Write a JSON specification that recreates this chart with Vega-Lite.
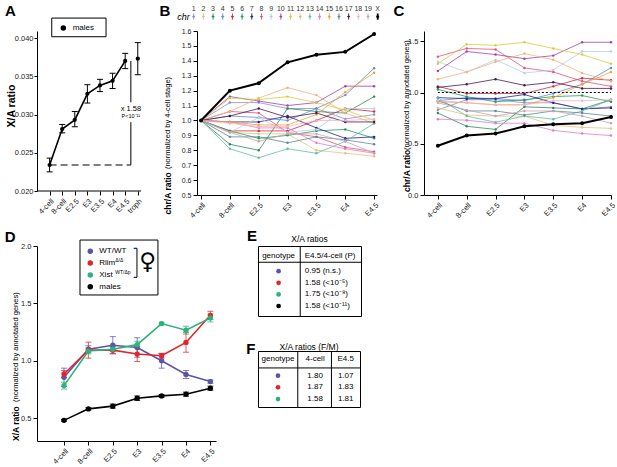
{
  "$schema": "https://vega.github.io/schema/vega-lite/v6.json",
  "padding": {"left": 4, "top": 4, "right": 0, "bottom": 0},
  "config": {
    "font": "Liberation Sans",
    "view": {"stroke": null},
    "axis": {"labelFontSize": 7.5, "labelColor": "#222", "domainColor": "black", "tickColor": "black", "tickSize": 4, "grid": false, "labelPadding": 2, "labelOverlap": false, "labelFlush": false}
  },
  "datasets": {
    "a": [
      {"i": 0, "v": 0.0234, "lo": 0.0225, "hi": 0.0243},
      {"i": 1, "v": 0.0281, "lo": 0.0276, "hi": 0.0287},
      {"i": 2, "v": 0.0293, "lo": 0.0284, "hi": 0.0304},
      {"i": 3, "v": 0.0327, "lo": 0.0315, "hi": 0.0339},
      {"i": 4, "v": 0.0338, "lo": 0.0330, "hi": 0.0346},
      {"i": 5, "v": 0.0344, "lo": 0.0334, "hi": 0.0354},
      {"i": 6, "v": 0.0370, "lo": 0.0360, "hi": 0.0380},
      {"i": 7, "v": 0.0373, "lo": 0.0352, "hi": 0.0394}
    ],
    "bc": [
      {"chr": "1", "i": 0, "b": 1, "c": 0.83}, {"chr": "1", "i": 1, "b": 1.12, "c": 0.93}, {"chr": "1", "i": 2, "b": 1.12, "c": 0.93}, {"chr": "1", "i": 3, "b": 1.08, "c": 0.90}, {"chr": "1", "i": 4, "b": 1.08, "c": 0.90}, {"chr": "1", "i": 5, "b": 1.01, "c": 0.84}, {"chr": "1", "i": 6, "b": 1.04, "c": 0.86},
      {"chr": "2", "i": 0, "b": 1, "c": 0.85}, {"chr": "2", "i": 1, "b": 0.92, "c": 0.78}, {"chr": "2", "i": 2, "b": 0.91, "c": 0.77}, {"chr": "2", "i": 3, "b": 0.91, "c": 0.77}, {"chr": "2", "i": 4, "b": 0.80, "c": 0.68}, {"chr": "2", "i": 5, "b": 0.78, "c": 0.66}, {"chr": "2", "i": 6, "b": 0.76, "c": 0.65},
      {"chr": "3", "i": 0, "b": 1, "c": 0.80}, {"chr": "3", "i": 1, "b": 0.84, "c": 0.67}, {"chr": "3", "i": 2, "b": 0.80, "c": 0.64}, {"chr": "3", "i": 3, "b": 1.08, "c": 0.86}, {"chr": "3", "i": 4, "b": 1.06, "c": 0.85}, {"chr": "3", "i": 5, "b": 1.05, "c": 0.84}, {"chr": "3", "i": 6, "b": 1.16, "c": 0.93},
      {"chr": "4", "i": 0, "b": 1, "c": 0.92}, {"chr": "4", "i": 1, "b": 1.03, "c": 0.95}, {"chr": "4", "i": 2, "b": 1.02, "c": 0.94}, {"chr": "4", "i": 3, "b": 1.00, "c": 0.92}, {"chr": "4", "i": 4, "b": 1.08, "c": 0.99}, {"chr": "4", "i": 5, "b": 1.17, "c": 1.08}, {"chr": "4", "i": 6, "b": 1.35, "c": 1.24},
      {"chr": "5", "i": 0, "b": 1, "c": 1.06}, {"chr": "5", "i": 1, "b": 0.93, "c": 0.99}, {"chr": "5", "i": 2, "b": 0.93, "c": 0.99}, {"chr": "5", "i": 3, "b": 0.93, "c": 0.99}, {"chr": "5", "i": 4, "b": 1.00, "c": 1.06}, {"chr": "5", "i": 5, "b": 1.08, "c": 1.14}, {"chr": "5", "i": 6, "b": 1.06, "c": 1.12},
      {"chr": "6", "i": 0, "b": 1, "c": 1.03}, {"chr": "6", "i": 1, "b": 0.93, "c": 0.96}, {"chr": "6", "i": 2, "b": 0.88, "c": 0.91}, {"chr": "6", "i": 3, "b": 0.90, "c": 0.93}, {"chr": "6", "i": 4, "b": 0.93, "c": 0.96}, {"chr": "6", "i": 5, "b": 0.94, "c": 0.97}, {"chr": "6", "i": 6, "b": 0.88, "c": 0.91},
      {"chr": "7", "i": 0, "b": 1, "c": 0.95}, {"chr": "7", "i": 1, "b": 0.99, "c": 0.94}, {"chr": "7", "i": 2, "b": 0.99, "c": 0.94}, {"chr": "7", "i": 3, "b": 1.03, "c": 0.98}, {"chr": "7", "i": 4, "b": 0.95, "c": 0.90}, {"chr": "7", "i": 5, "b": 0.88, "c": 0.84}, {"chr": "7", "i": 6, "b": 0.89, "c": 0.85},
      {"chr": "8", "i": 0, "b": 1, "c": 1.35}, {"chr": "8", "i": 1, "b": 1.06, "c": 1.43}, {"chr": "8", "i": 2, "b": 1.05, "c": 1.42}, {"chr": "8", "i": 3, "b": 0.92, "c": 1.24}, {"chr": "8", "i": 4, "b": 0.89, "c": 1.20}, {"chr": "8", "i": 5, "b": 0.82, "c": 1.11}, {"chr": "8", "i": 6, "b": 0.79, "c": 1.06},
      {"chr": "9", "i": 0, "b": 1, "c": 1.30}, {"chr": "9", "i": 1, "b": 0.92, "c": 1.20}, {"chr": "9", "i": 2, "b": 1.02, "c": 1.32}, {"chr": "9", "i": 3, "b": 0.92, "c": 1.19}, {"chr": "9", "i": 4, "b": 0.94, "c": 1.22}, {"chr": "9", "i": 5, "b": 1.08, "c": 1.40}, {"chr": "9", "i": 6, "b": 1.08, "c": 1.40},
      {"chr": "10", "i": 0, "b": 1, "c": 1.21}, {"chr": "10", "i": 1, "b": 1.16, "c": 1.40}, {"chr": "10", "i": 2, "b": 1.13, "c": 1.37}, {"chr": "10", "i": 3, "b": 1.10, "c": 1.33}, {"chr": "10", "i": 4, "b": 1.12, "c": 1.36}, {"chr": "10", "i": 5, "b": 1.23, "c": 1.49}, {"chr": "10", "i": 6, "b": 1.23, "c": 1.49},
      {"chr": "11", "i": 0, "b": 1, "c": 1.28}, {"chr": "11", "i": 1, "b": 1.15, "c": 1.47}, {"chr": "11", "i": 2, "b": 1.14, "c": 1.46}, {"chr": "11", "i": 3, "b": 1.16, "c": 1.49}, {"chr": "11", "i": 4, "b": 1.12, "c": 1.43}, {"chr": "11", "i": 5, "b": 1.07, "c": 1.37}, {"chr": "11", "i": 6, "b": 1.00, "c": 1.28},
      {"chr": "12", "i": 0, "b": 1, "c": 1.13}, {"chr": "12", "i": 1, "b": 1.06, "c": 1.20}, {"chr": "12", "i": 2, "b": 1.15, "c": 1.30}, {"chr": "12", "i": 3, "b": 1.22, "c": 1.38}, {"chr": "12", "i": 4, "b": 1.17, "c": 1.32}, {"chr": "12", "i": 5, "b": 1.05, "c": 1.19}, {"chr": "12", "i": 6, "b": 0.98, "c": 1.11},
      {"chr": "13", "i": 0, "b": 1, "c": 0.95}, {"chr": "13", "i": 1, "b": 0.81, "c": 0.77}, {"chr": "13", "i": 2, "b": 0.75, "c": 0.71}, {"chr": "13", "i": 3, "b": 0.81, "c": 0.77}, {"chr": "13", "i": 4, "b": 0.78, "c": 0.74}, {"chr": "13", "i": 5, "b": 0.86, "c": 0.82}, {"chr": "13", "i": 6, "b": 0.98, "c": 0.93},
      {"chr": "14", "i": 0, "b": 1, "c": 0.74}, {"chr": "14", "i": 1, "b": 0.99, "c": 0.73}, {"chr": "14", "i": 2, "b": 0.95, "c": 0.70}, {"chr": "14", "i": 3, "b": 0.95, "c": 0.70}, {"chr": "14", "i": 4, "b": 0.85, "c": 0.63}, {"chr": "14", "i": 5, "b": 0.81, "c": 0.60}, {"chr": "14", "i": 6, "b": 0.78, "c": 0.58},
      {"chr": "15", "i": 0, "b": 1, "c": 0.91}, {"chr": "15", "i": 1, "b": 0.99, "c": 0.90}, {"chr": "15", "i": 2, "b": 0.97, "c": 0.88}, {"chr": "15", "i": 3, "b": 0.97, "c": 0.88}, {"chr": "15", "i": 4, "b": 1.04, "c": 0.95}, {"chr": "15", "i": 5, "b": 1.19, "c": 1.08}, {"chr": "15", "i": 6, "b": 1.32, "c": 1.20},
      {"chr": "16", "i": 0, "b": 1, "c": 0.92}, {"chr": "16", "i": 1, "b": 0.89, "c": 0.82}, {"chr": "16", "i": 2, "b": 0.89, "c": 0.82}, {"chr": "16", "i": 3, "b": 0.85, "c": 0.78}, {"chr": "16", "i": 4, "b": 0.89, "c": 0.82}, {"chr": "16", "i": 5, "b": 0.87, "c": 0.80}, {"chr": "16", "i": 6, "b": 0.84, "c": 0.77},
      {"chr": "17", "i": 0, "b": 1, "c": 1.05}, {"chr": "17", "i": 1, "b": 1.03, "c": 1.08}, {"chr": "17", "i": 2, "b": 1.08, "c": 1.13}, {"chr": "17", "i": 3, "b": 1.02, "c": 1.07}, {"chr": "17", "i": 4, "b": 1.05, "c": 1.10}, {"chr": "17", "i": 5, "b": 0.99, "c": 1.04}, {"chr": "17", "i": 6, "b": 0.99, "c": 1.04},
      {"chr": "18", "i": 0, "b": 1, "c": 0.92}, {"chr": "18", "i": 1, "b": 0.98, "c": 0.90}, {"chr": "18", "i": 2, "b": 0.96, "c": 0.88}, {"chr": "18", "i": 3, "b": 0.96, "c": 0.88}, {"chr": "18", "i": 4, "b": 1.00, "c": 0.92}, {"chr": "18", "i": 5, "b": 1.00, "c": 0.92}, {"chr": "18", "i": 6, "b": 1.01, "c": 0.93},
      {"chr": "19", "i": 0, "b": 1, "c": 0.90}, {"chr": "19", "i": 1, "b": 0.92, "c": 0.83}, {"chr": "19", "i": 2, "b": 0.86, "c": 0.77}, {"chr": "19", "i": 3, "b": 0.91, "c": 0.82}, {"chr": "19", "i": 4, "b": 0.91, "c": 0.82}, {"chr": "19", "i": 5, "b": 0.86, "c": 0.77}, {"chr": "19", "i": 6, "b": 0.78, "c": 0.70},
      {"chr": "X", "i": 0, "b": 1, "c": 0.48}, {"chr": "X", "i": 1, "b": 1.20, "c": 0.58}, {"chr": "X", "i": 2, "b": 1.25, "c": 0.60}, {"chr": "X", "i": 3, "b": 1.39, "c": 0.67}, {"chr": "X", "i": 4, "b": 1.44, "c": 0.69}, {"chr": "X", "i": 5, "b": 1.46, "c": 0.70}, {"chr": "X", "i": 6, "b": 1.58, "c": 0.76}
    ],
    "d": [
      {"g": "WT/WT", "i": 0, "v": 0.855, "lo": 0.775, "hi": 0.935}, {"g": "WT/WT", "i": 1, "v": 1.10, "lo": 1.07, "hi": 1.13}, {"g": "WT/WT", "i": 2, "v": 1.135, "lo": 1.06, "hi": 1.21}, {"g": "WT/WT", "i": 3, "v": 1.115, "lo": 1.03, "hi": 1.20}, {"g": "WT/WT", "i": 4, "v": 1.00, "lo": 0.935, "hi": 1.065}, {"g": "WT/WT", "i": 5, "v": 0.88, "lo": 0.845, "hi": 0.915}, {"g": "WT/WT", "i": 6, "v": 0.818, "lo": 0.803, "hi": 0.833},
      {"g": "Rlim", "i": 0, "v": 0.884, "lo": 0.854, "hi": 0.914}, {"g": "Rlim", "i": 1, "v": 1.092, "lo": 1.022, "hi": 1.162}, {"g": "Rlim", "i": 2, "v": 1.092, "lo": 1.062, "hi": 1.122}, {"g": "Rlim", "i": 3, "v": 1.058, "lo": 0.993, "hi": 1.123}, {"g": "Rlim", "i": 4, "v": 1.043, "lo": 1.023, "hi": 1.063}, {"g": "Rlim", "i": 5, "v": 1.159, "lo": 1.074, "hi": 1.244}, {"g": "Rlim", "i": 6, "v": 1.396, "lo": 1.361, "hi": 1.431},
      {"g": "Xist", "i": 0, "v": 0.783, "lo": 0.753, "hi": 0.813}, {"g": "Xist", "i": 1, "v": 1.084, "lo": 1.059, "hi": 1.109}, {"g": "Xist", "i": 2, "v": 1.10, "lo": 1.08, "hi": 1.12}, {"g": "Xist", "i": 3, "v": 1.14, "lo": 1.11, "hi": 1.17}, {"g": "Xist", "i": 4, "v": 1.324, "lo": 1.312, "hi": 1.336}, {"g": "Xist", "i": 5, "v": 1.266, "lo": 1.231, "hi": 1.301}, {"g": "Xist", "i": 6, "v": 1.373, "lo": 1.338, "hi": 1.408},
      {"g": "males", "i": 0, "v": 0.48, "lo": 0.472, "hi": 0.488}, {"g": "males", "i": 1, "v": 0.58, "lo": 0.57, "hi": 0.59}, {"g": "males", "i": 2, "v": 0.604, "lo": 0.586, "hi": 0.622}, {"g": "males", "i": 3, "v": 0.673, "lo": 0.653, "hi": 0.693}, {"g": "males", "i": 4, "v": 0.693, "lo": 0.681, "hi": 0.705}, {"g": "males", "i": 5, "v": 0.708, "lo": 0.69, "hi": 0.726}, {"g": "males", "i": 6, "v": 0.76, "lo": 0.742, "hi": 0.778}
    ],
    "dl": [
      {"g": "WT/WT", "lab": "WT/WT", "sup": ""},
      {"g": "Rlim", "lab": "Rlim", "sup": "Δ/Δ"},
      {"g": "Xist", "lab": "Xist", "sup": "WT/Δp"},
      {"g": "males", "lab": "males", "sup": ""}
    ],
    "e": [
      {"g": "WT/WT", "r": 1, "t": "0.95 (n.s.)"},
      {"g": "Rlim", "r": 2, "t": "1.58 (<10⁻⁵)"},
      {"g": "Xist", "r": 3, "t": "1.75 (<10⁻⁸)"},
      {"g": "males", "r": 4, "t": "1.58 (<10⁻¹¹)"}
    ],
    "f": [
      {"g": "WT/WT", "r": 1, "a": "1.80", "b": "1.07"},
      {"g": "Rlim", "r": 2, "a": "1.87", "b": "1.83"},
      {"g": "Xist", "r": 3, "a": "1.58", "b": "1.81"}
    ]
  },
  "spacing": 9,
  "resolve": {"scale": {"color": "independent"}},
  "vconcat": [
    {
      "bounds": "flush",
      "spacing": 47,
      "hconcat": [
        {
          "width": 113,
          "height": 160,
          "layer": [
            {"data": {"name": "a"}, "mark": {"type": "rule", "color": "black", "strokeWidth": 1},
              "encoding": {
                "x": {"field": "i", "type": "quantitative", "scale": {"domain": [-1, 7.97], "nice": false, "zero": false}, "axis": {"values": [0, 1, 2, 3, 4, 5, 6, 7], "tickCount": 20, "domain": false, "labelExpr": "['4-cell','8-cell','E2.5','E3','E3.5','E4','E4.5','troph'][datum.value]", "labelAngle": -45, "labelOverlap": false, "labelFlush": false, "title": null}},
                "y": {"field": "lo", "type": "quantitative", "scale": {"domain": [0.02, 0.04092], "nice": false, "zero": false}, "axis": {"values": [0.02, 0.025, 0.03, 0.035, 0.04], "tickCount": 20, "format": ".3f", "tickSize": 3, "labelPadding": 1, "labelOverlap": false, "labelFlush": false, "title": null}},
                "y2": {"field": "hi"}
              }},
            {"data": {"values": [{}]}, "mark": {"type": "rule", "color": "black", "strokeWidth": 1}, "encoding": {"x": {"datum": -1}, "x2": {"datum": 7.26}, "y": {"datum": 0.02}}},
            {"data": {"name": "a"}, "mark": {"type": "tick", "orient": "horizontal", "size": 6, "thickness": 1, "color": "black", "opacity": 1}, "encoding": {"x": {"field": "i", "type": "quantitative"}, "y": {"field": "lo", "type": "quantitative"}}},
            {"data": {"name": "a"}, "mark": {"type": "tick", "orient": "horizontal", "size": 6, "thickness": 1, "color": "black", "opacity": 1}, "encoding": {"x": {"field": "i", "type": "quantitative"}, "y": {"field": "hi", "type": "quantitative"}}},
            {"data": {"name": "a"}, "transform": [{"filter": "datum.i < 7"}], "mark": {"type": "line", "color": "black", "strokeWidth": 1.6}, "encoding": {"x": {"field": "i", "type": "quantitative"}, "y": {"field": "v", "type": "quantitative"}}},
            {"data": {"name": "a"}, "mark": {"type": "circle", "size": 18, "color": "black", "opacity": 1}, "encoding": {"x": {"field": "i", "type": "quantitative"}, "y": {"field": "v", "type": "quantitative"}}},
            {"data": {"values": [{}]}, "mark": {"type": "rect", "fill": "white", "stroke": "black", "strokeWidth": 1}, "encoding": {"x": {"datum": 0.17}, "x2": {"datum": 4.48}, "y": {"datum": 0.04261}, "y2": {"datum": 0.04017}}},
            {"data": {"values": [{}]}, "mark": {"type": "circle", "size": 30, "color": "black", "opacity": 1}, "encoding": {"x": {"datum": 1.09}, "y": {"datum": 0.0413}}},
            {"data": {"values": [{}]}, "mark": {"type": "text", "text": "males", "fontSize": 8, "align": "left", "baseline": "middle"}, "encoding": {"x": {"datum": 1.83}, "y": {"datum": 0.0413}}},
            {"data": {"values": [{}]}, "mark": {"type": "rule", "strokeDash": [7, 4], "color": "black", "strokeWidth": 1.2}, "encoding": {"x": {"datum": 0}, "x2": {"datum": 6.45}, "y": {"datum": 0.0234}}},
            {"data": {"values": [{}]}, "mark": {"type": "rule", "color": "black", "strokeWidth": 1}, "encoding": {"x": {"datum": 6.45}, "y": {"datum": 0.0234}, "y2": {"datum": 0.029}}},
            {"data": {"values": [{}]}, "mark": {"type": "rule", "color": "black", "strokeWidth": 1}, "encoding": {"x": {"datum": 6.45}, "y": {"datum": 0.0316}, "y2": {"datum": 0.037}}},
            {"data": {"values": [{}]}, "mark": {"type": "text", "text": "x 1.58", "fontSize": 7.5, "baseline": "middle"}, "encoding": {"x": {"datum": 6.45}, "y": {"datum": 0.03074}}},
            {"data": {"values": [{}]}, "mark": {"type": "text", "text": "P<10⁻¹¹", "fontSize": 5.5, "baseline": "middle"}, "encoding": {"x": {"datum": 6.45}, "y": {"datum": 0.0298}}},
            {"data": {"values": [{}]}, "mark": {"type": "text", "text": "X/A ratio", "angle": 270, "baseline": "middle", "fontSize": 10.5, "fontWeight": "bold"}, "encoding": {"x": {"datum": -3.02}, "y": {"datum": 0.03111}}},
            {"data": {"values": [{}]}, "mark": {"type": "text", "text": "A", "baseline": "middle", "fontSize": 15, "fontWeight": "bold"}, "encoding": {"x": {"datum": -3.1}, "y": {"datum": 0.04353}}}
          ]
        },
        {
          "width": 180,
          "height": 164,
          "layer": [
            {
              "layer": [
                {"data": {"name": "bc"}, "transform": [{"filter": "datum.chr != 'X'"}], "mark": {"type": "line", "strokeWidth": 0.8},
                  "encoding": {
                    "x": {"field": "i", "type": "quantitative", "scale": {"domain": [-0.14, 6.1], "nice": false, "zero": false}, "axis": {"values": [0, 1, 2, 3, 4, 5, 6], "tickCount": 20, "labelExpr": "['4-cell','8-cell','E2.5','E3','E3.5','E4','E4.5'][datum.value]", "labelAngle": -45, "labelOverlap": false, "labelFlush": false, "title": null}},
                    "y": {"field": "b", "type": "quantitative", "scale": {"domain": [0.5, 1.6], "nice": false, "zero": false}, "axis": {"values": [0.5, 0.6, 0.7, 0.8, 0.9, 1.0, 1.1, 1.2, 1.3, 1.4, 1.5, 1.6], "tickCount": 20, "format": ".1f", "labelOverlap": false, "labelFlush": false, "labelFontSize": 7, "title": null}},
                    "color": {"field": "chr", "type": "nominal", "scale": {"domain": ["1","2","3","4","5","6","7","8","9","10","11","12","13","14","15","16","17","18","19","X"], "range": ["#8c8cd2","#e6c37a","#2e8b57","#5b8fd6","#d7263d","#1f9e5a","#23238c","#e0567a","#b9cdef","#a044a8","#d6cc3c","#f2b27a","#5cbfa6","#e27cc8","#f2a32e","#5f8799","#4a1a4e","#f3b3c4","#c9a3b0","#000000"]}, "legend": null}
                  }},
                {"data": {"name": "bc"}, "transform": [{"filter": "datum.chr != 'X'"}], "mark": {"type": "circle", "size": 6, "opacity": 1}, "encoding": {"x": {"field": "i", "type": "quantitative"}, "y": {"field": "b", "type": "quantitative"}, "color": {"field": "chr", "type": "nominal"}}},
                {"data": {"name": "bc"}, "transform": [{"filter": "datum.chr == 'X'"}], "mark": {"type": "line", "strokeWidth": 2, "color": "black"}, "encoding": {"x": {"field": "i", "type": "quantitative"}, "y": {"field": "b", "type": "quantitative"}}},
                {"data": {"name": "bc"}, "transform": [{"filter": "datum.chr == 'X'"}], "mark": {"type": "circle", "size": 16, "color": "black", "opacity": 1}, "encoding": {"x": {"field": "i", "type": "quantitative"}, "y": {"field": "b", "type": "quantitative"}}},
                {"data": {"values": [{}]}, "mark": {"type": "text", "text": "chr/A ratio", "angle": 270, "align": "left", "baseline": "middle", "fontSize": 8.5, "fontWeight": "bold"}, "encoding": {"x": {"datum": -1.145}, "y": {"datum": 0.37}}},
                {"data": {"values": [{}]}, "mark": {"type": "text", "text": "(normalized by 4-cell stage)", "angle": 270, "align": "left", "baseline": "middle", "fontSize": 7.5}, "encoding": {"x": {"datum": -1.145}, "y": {"datum": 0.674}}},
                {"data": {"values": [{}]}, "mark": {"type": "text", "text": "B", "baseline": "middle", "fontSize": 15, "fontWeight": "bold"}, "encoding": {"x": {"datum": -1.25}, "y": {"datum": 1.734}}}
              ]
            },
            {
              "data": {"name": "bc"},
              "transform": [{"filter": "datum.i == 0"}],
              "encoding": {"x": {"field": "chr", "type": "ordinal", "scale": {"type": "point", "domain": ["1","2","3","4","5","6","7","8","9","10","11","12","13","14","15","16","17","18","19","X"], "range": [-3.3, 180.7], "padding": 0}, "axis": null}},
              "layer": [
                {"mark": {"type": "text", "fontSize": 7, "color": "#333", "baseline": "middle"}, "encoding": {"text": {"field": "chr"}, "y": {"datum": 1.132, "scale": {"domain": [0, 1], "nice": false, "zero": false}, "axis": null}}},
                {"mark": {"type": "point", "shape": "M0,-1L0,1M-0.45,0L0.45,0", "filled": false, "size": 40, "opacity": 1},
                  "encoding": {"y": {"datum": 1.088, "scale": {"domain": [0, 1], "nice": false, "zero": false}, "axis": null}, "color": {"field": "chr", "type": "nominal"}, "strokeWidth": {"condition": {"test": "datum.chr === 'X'", "value": 1.8}, "value": 0.9}}},
                {"mark": {"type": "circle", "size": 5, "opacity": 1}, "encoding": {"y": {"datum": 1.088, "scale": {"domain": [0, 1], "nice": false, "zero": false}, "axis": null}, "color": {"field": "chr", "type": "nominal"}}},
                {"data": {"values": [{}]}, "mark": {"type": "text", "text": "chr", "fontStyle": "italic", "fontSize": 9, "align": "right", "baseline": "middle", "dx": -4}, "encoding": {"x": {"datum": "1", "type": "ordinal"}, "y": {"datum": 1.088, "scale": {"domain": [0, 1], "nice": false, "zero": false}, "axis": null}}}
              ]
            }
          ],
          "resolve": {"scale": {"x": "independent", "y": "independent"}}
        },
        {
          "width": 187,
          "height": 164,
          "layer": [
            {"data": {"name": "bc"}, "transform": [{"filter": "datum.chr != 'X'"}], "mark": {"type": "line", "strokeWidth": 0.8},
              "encoding": {
                "x": {"field": "i", "type": "quantitative", "scale": {"domain": [-0.48, 6.0], "nice": false, "zero": false}, "axis": {"values": [0, 1, 2, 3, 4, 5, 6], "tickCount": 20, "labelExpr": "['4-cell','8-cell','E2.5','E3','E3.5','E4','E4.5'][datum.value]", "labelAngle": -45, "labelOverlap": false, "labelFlush": false, "title": null}},
                "y": {"field": "c", "type": "quantitative", "scale": {"domain": [0, 1.6], "nice": false, "zero": false}, "axis": {"values": [0, 0.5, 1.0, 1.5], "tickCount": 20, "format": ".1f", "labelOverlap": false, "labelFlush": false, "title": null}},
                "color": {"field": "chr", "type": "nominal", "scale": {"domain": ["1","2","3","4","5","6","7","8","9","10","11","12","13","14","15","16","17","18","19","X"], "range": ["#8c8cd2","#e6c37a","#2e8b57","#5b8fd6","#d7263d","#1f9e5a","#23238c","#e0567a","#b9cdef","#a044a8","#d6cc3c","#f2b27a","#5cbfa6","#e27cc8","#f2a32e","#5f8799","#4a1a4e","#f3b3c4","#c9a3b0","#000000"]}, "legend": null}
              }},
            {"data": {"name": "bc"}, "transform": [{"filter": "datum.chr != 'X'"}], "mark": {"type": "circle", "size": 6, "opacity": 1}, "encoding": {"x": {"field": "i", "type": "quantitative"}, "y": {"field": "c", "type": "quantitative"}, "color": {"field": "chr", "type": "nominal"}}},
            {"data": {"values": [{}]}, "mark": {"type": "rule", "strokeDash": [2, 2], "color": "black", "strokeWidth": 1}, "encoding": {"x": {"datum": 0}, "x2": {"datum": 6}, "y": {"datum": 1}}},
            {"data": {"name": "bc"}, "transform": [{"filter": "datum.chr == 'X'"}], "mark": {"type": "line", "strokeWidth": 2, "color": "black"}, "encoding": {"x": {"field": "i", "type": "quantitative"}, "y": {"field": "c", "type": "quantitative"}}},
            {"data": {"name": "bc"}, "transform": [{"filter": "datum.chr == 'X'"}], "mark": {"type": "circle", "size": 16, "color": "black", "opacity": 1}, "encoding": {"x": {"field": "i", "type": "quantitative"}, "y": {"field": "c", "type": "quantitative"}}},
            {"data": {"values": [{}]}, "mark": {"type": "text", "text": "chr/A ratio", "angle": 270, "align": "left", "baseline": "middle", "fontSize": 8.5, "fontWeight": "bold"}, "encoding": {"x": {"datum": -1.07}, "y": {"datum": 0.03}}},
            {"data": {"values": [{}]}, "mark": {"type": "text", "text": "(normalized by annotated genes)", "angle": 270, "align": "left", "baseline": "middle", "fontSize": 7.5}, "encoding": {"x": {"datum": -1.07}, "y": {"datum": 0.44}}},
            {"data": {"values": [{}]}, "mark": {"type": "text", "text": "C", "baseline": "middle", "fontSize": 15, "fontWeight": "bold"}, "encoding": {"x": {"datum": -1.35}, "y": {"datum": 1.795}}}
          ]
        }
      ]
    },
    {
      "bounds": "flush",
      "spacing": 42,
      "hconcat": [
        {
          "width": 179,
          "height": 195,
          "layer": [
            {
              "layer": [
                {"data": {"name": "d"}, "mark": {"type": "rule", "strokeWidth": 1, "opacity": 0.75},
                  "encoding": {
                    "x": {"field": "i", "type": "quantitative", "scale": {"domain": [-1.107, 6.23], "nice": false, "zero": false}, "axis": {"values": [0, 1, 2, 3, 4, 5, 6], "tickCount": 20, "labelExpr": "['4-cell','8-cell','E2.5','E3','E3.5','E4','E4.5'][datum.value]", "labelAngle": -45, "labelOverlap": false, "labelFlush": false, "title": null}},
                    "y": {"field": "lo", "type": "quantitative", "scale": {"domain": [0.3, 2.0], "nice": false, "zero": false}, "axis": {"values": [0.5, 1.0, 1.5, 2.0], "tickCount": 20, "format": ".1f", "labelOverlap": false, "labelFlush": false, "title": null}},
                    "y2": {"field": "hi"},
                    "color": {"field": "g", "type": "nominal", "scale": {"domain": ["WT/WT", "Rlim", "Xist", "males"], "range": ["#5b54ab", "#e3242b", "#2db37a", "#000000"]}, "legend": null}
                  }},
                {"data": {"name": "d"}, "mark": {"type": "tick", "orient": "horizontal", "size": 6, "thickness": 1, "opacity": 0.75}, "encoding": {"x": {"field": "i", "type": "quantitative"}, "y": {"field": "lo", "type": "quantitative"}, "color": {"field": "g", "type": "nominal"}}},
                {"data": {"name": "d"}, "mark": {"type": "tick", "orient": "horizontal", "size": 6, "thickness": 1, "opacity": 0.75}, "encoding": {"x": {"field": "i", "type": "quantitative"}, "y": {"field": "hi", "type": "quantitative"}, "color": {"field": "g", "type": "nominal"}}},
                {"data": {"name": "d"}, "mark": {"type": "line", "strokeWidth": 1.6}, "encoding": {"x": {"field": "i", "type": "quantitative"}, "y": {"field": "v", "type": "quantitative"}, "color": {"field": "g", "type": "nominal"}}},
                {"data": {"name": "d"}, "mark": {"type": "circle", "size": 28, "opacity": 1}, "encoding": {"x": {"field": "i", "type": "quantitative"}, "y": {"field": "v", "type": "quantitative"}, "color": {"field": "g", "type": "nominal"}}},
                {"data": {"values": [{}]}, "mark": {"type": "rect", "fill": "white", "stroke": "black", "strokeWidth": 1}, "encoding": {"x": {"datum": 0.655}, "x2": {"datum": 3.85}, "y": {"datum": 2.052}, "y2": {"datum": 1.573}}},
                {"data": {"values": [{}]}, "mark": {"type": "rule", "color": "black", "strokeWidth": 1}, "encoding": {"x": {"datum": 2.99}, "y": {"datum": 1.98}, "y2": {"datum": 1.727}}},
                {"data": {"values": [{}]}, "mark": {"type": "rule", "color": "black", "strokeWidth": 1}, "encoding": {"x": {"datum": 2.856}, "x2": {"datum": 2.99}, "y": {"datum": 1.98}}},
                {"data": {"values": [{}]}, "mark": {"type": "rule", "color": "black", "strokeWidth": 1}, "encoding": {"x": {"datum": 2.856}, "x2": {"datum": 2.99}, "y": {"datum": 1.727}}},
                {"data": {"values": [{}]}, "mark": {"type": "text", "text": "♀", "font": "DejaVu Sans", "fontSize": 23, "baseline": "middle"}, "encoding": {"x": {"datum": 3.43}, "y": {"datum": 1.86}}},
                {"data": {"values": [{}]}, "mark": {"type": "text", "text": "X/A ratio", "angle": 270, "align": "left", "baseline": "middle", "fontSize": 8.5, "fontWeight": "bold"}, "encoding": {"x": {"datum": -1.97}, "y": {"datum": 0.3}}},
                {"data": {"values": [{}]}, "mark": {"type": "text", "text": "(normalized by annotated genes)", "angle": 270, "align": "left", "baseline": "middle", "fontSize": 7.5}, "encoding": {"x": {"datum": -1.97}, "y": {"datum": 0.64}}},
                {"data": {"values": [{}]}, "mark": {"type": "text", "text": "D", "baseline": "middle", "fontSize": 15, "fontWeight": "bold"}, "encoding": {"x": {"datum": -2.21}, "y": {"datum": 2.078}}}
              ]
            },
            {
              "data": {"name": "dl"},
              "encoding": {"y": {"field": "g", "type": "nominal", "scale": {"type": "point", "domain": ["WT/WT", "Rlim", "Xist", "males"], "range": [5.3, 40.7], "padding": 0}, "axis": null}},
              "layer": [
                {"mark": {"type": "circle", "size": 30, "opacity": 1}, "encoding": {"x": {"datum": 1.077}, "color": {"field": "g", "type": "nominal"}}},
                {"mark": {"type": "text", "fontSize": 8, "align": "left", "baseline": "middle"}, "encoding": {"x": {"datum": 1.446}, "text": {"field": "lab"}}},
                {"mark": {"type": "text", "fontSize": 5, "align": "left", "baseline": "middle", "dy": -3}, "encoding": {"x": {"datum": 2.1}, "text": {"field": "sup"}}}
              ]
            }
          ],
          "resolve": {"scale": {"y": "independent"}}
        },
        {
          "bounds": "flush",
          "spacing": 35,
          "vconcat": [
            {
              "width": 103,
              "height": 70,
              "view": {"stroke": "black", "strokeWidth": 1},
              "layer": [
                {"data": {"name": "e"}, "mark": {"type": "circle", "size": 22, "opacity": 1},
                  "encoding": {
                    "x": {"datum": 0.2, "type": "quantitative", "scale": {"domain": [0, 1], "nice": false, "zero": false}, "axis": null},
                    "y": {"field": "r", "type": "quantitative", "scale": {"domain": [-1.17, 4.86], "reverse": true, "nice": false, "zero": false}, "axis": null},
                    "color": {"field": "g", "type": "nominal", "scale": {"domain": ["WT/WT", "Rlim", "Xist", "males"], "range": ["#5b54ab", "#e3242b", "#2db37a", "#000000"]}, "legend": null}
                  }},
                {"data": {"name": "e"}, "mark": {"type": "text", "fontSize": 8, "align": "left", "baseline": "middle"}, "encoding": {"x": {"datum": 0.455}, "y": {"field": "r", "type": "quantitative"}, "text": {"field": "t"}}},
                {"data": {"values": [{}]}, "mark": {"type": "text", "text": "E", "fontSize": 15, "fontWeight": "bold", "baseline": "middle"}, "encoding": {"x": {"datum": -0.058}, "y": {"datum": -2.02}}},
                {"data": {"values": [{}]}, "mark": {"type": "text", "text": "X/A ratios", "fontSize": 8.5, "baseline": "middle"}, "encoding": {"x": {"datum": 0.5}, "y": {"datum": -1.79}}},
                {"data": {"values": [{}]}, "mark": {"type": "rule", "color": "black", "strokeWidth": 1}, "encoding": {"x": {"datum": 0}, "x2": {"datum": 1}, "y": {"datum": 0.23}}},
                {"data": {"values": [{}]}, "mark": {"type": "rule", "color": "black", "strokeWidth": 1}, "encoding": {"x": {"datum": 0.41}, "y": {"datum": -1.17}, "y2": {"datum": 4.86}}},
                {"data": {"values": [{}]}, "mark": {"type": "text", "text": "genotype", "fontSize": 8, "baseline": "middle"}, "encoding": {"x": {"datum": 0.2}, "y": {"datum": -0.34}}},
                {"data": {"values": [{}]}, "mark": {"type": "text", "text": "E4.5/4-cell (P)", "fontSize": 8, "baseline": "middle"}, "encoding": {"x": {"datum": 0.70}, "y": {"datum": -0.34}}}
              ]
            },
            {
              "width": 102,
              "height": 56,
              "view": {"stroke": "black", "strokeWidth": 1},
              "layer": [
                {"data": {"name": "f"}, "mark": {"type": "circle", "size": 22, "opacity": 1},
                  "encoding": {
                    "x": {"datum": 0.196, "type": "quantitative", "scale": {"domain": [0, 1], "nice": false, "zero": false}, "axis": null},
                    "y": {"field": "r", "type": "quantitative", "scale": {"domain": [-1.11, 3.68], "reverse": true, "nice": false, "zero": false}, "axis": null},
                    "color": {"field": "g", "type": "nominal", "scale": {"domain": ["WT/WT", "Rlim", "Xist", "males"], "range": ["#5b54ab", "#e3242b", "#2db37a", "#000000"]}, "legend": null}
                  }},
                {"data": {"name": "f"}, "mark": {"type": "text", "fontSize": 8, "baseline": "middle"}, "encoding": {"x": {"datum": 0.56}, "y": {"field": "r", "type": "quantitative"}, "text": {"field": "a"}}},
                {"data": {"name": "f"}, "mark": {"type": "text", "fontSize": 8, "baseline": "middle"}, "encoding": {"x": {"datum": 0.86}, "y": {"field": "r", "type": "quantitative"}, "text": {"field": "b"}}},
                {"data": {"values": [{}]}, "mark": {"type": "text", "text": "F", "fontSize": 15, "fontWeight": "bold", "baseline": "middle"}, "encoding": {"x": {"datum": -0.07}, "y": {"datum": -1.32}}},
                {"data": {"values": [{}]}, "mark": {"type": "text", "text": "X/A ratios (F/M)", "fontSize": 8.5, "baseline": "middle"}, "encoding": {"x": {"datum": 0.5}, "y": {"datum": -1.47}}},
                {"data": {"values": [{}]}, "mark": {"type": "rule", "color": "black", "strokeWidth": 1}, "encoding": {"x": {"datum": 0}, "x2": {"datum": 1}, "y": {"datum": 0.34}}},
                {"data": {"values": [{}]}, "mark": {"type": "rule", "color": "black", "strokeWidth": 1}, "encoding": {"x": {"datum": 0.39}, "y": {"datum": -1.11}, "y2": {"datum": 3.68}}},
                {"data": {"values": [{}]}, "mark": {"type": "rule", "color": "black", "strokeWidth": 1}, "encoding": {"x": {"datum": 0.72}, "y": {"datum": -1.11}, "y2": {"datum": 3.68}}},
                {"data": {"values": [{}]}, "mark": {"type": "text", "text": "genotype", "fontSize": 8, "baseline": "middle"}, "encoding": {"x": {"datum": 0.196}, "y": {"datum": -0.43}}},
                {"data": {"values": [{}]}, "mark": {"type": "text", "text": "4-cell", "fontSize": 8, "baseline": "middle"}, "encoding": {"x": {"datum": 0.56}, "y": {"datum": -0.43}}},
                {"data": {"values": [{}]}, "mark": {"type": "text", "text": "E4.5", "fontSize": 8, "baseline": "middle"}, "encoding": {"x": {"datum": 0.86}, "y": {"datum": -0.43}}}
              ]
            }
          ]
        }
      ]
    }
  ]
}
